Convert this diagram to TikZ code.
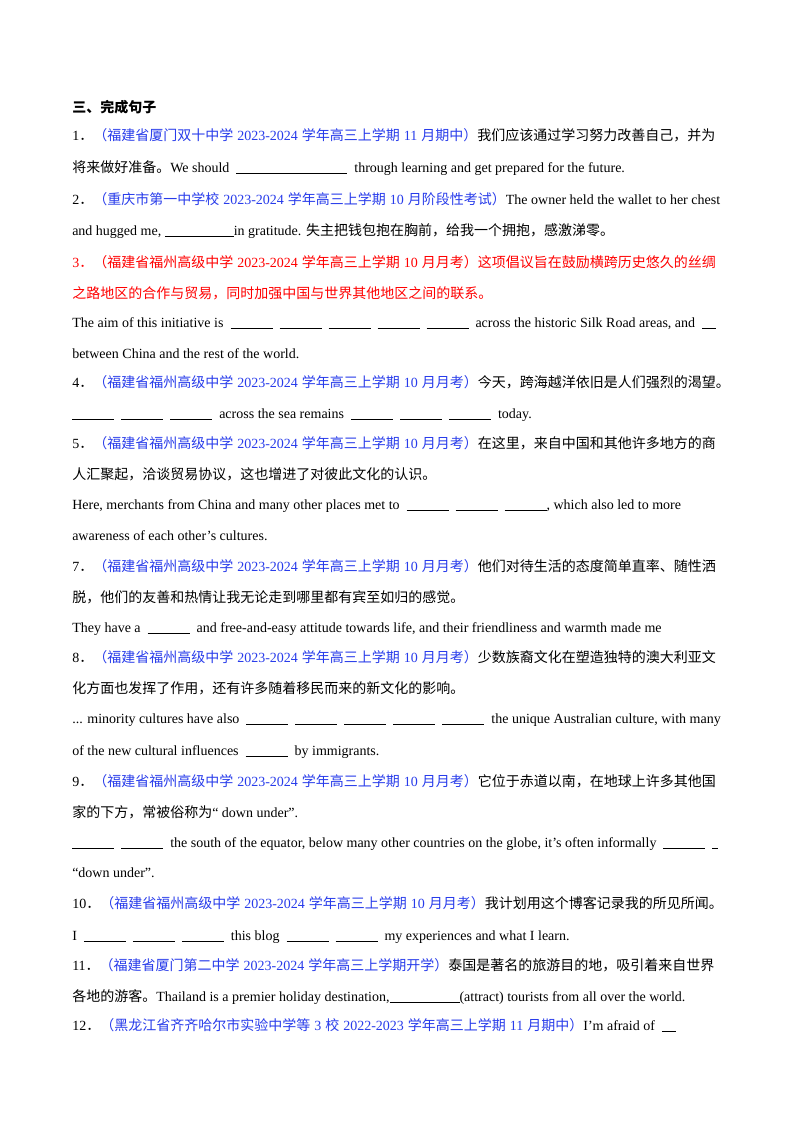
\documentclass[tikz,border=0pt]{standalone}
\usepackage{fontspec}
\setmainfont{Liberation Serif}
\newfontfamily\cjkf{Noto Sans CJK SC}
\newcommand{\C}[1]{{\cjkf #1}}
\newcommand{\N}[1]{\hspace{3pt}#1\hspace{3pt}}
\newcommand{\bl}[1][42]{\rule[-1.5pt]{#1\dimexpr0.75pt\relax}{0.5pt}}
\definecolor{src}{RGB}{40,60,235}
\definecolor{hl}{RGB}{255,0,0}
\newcommand{\Src}[1]{\textcolor{src}{#1}}
\begin{document}
\begin{tikzpicture}[x=0.75pt,y=-0.75pt,
  ln/.style={anchor=base west,inner sep=0pt,font=\fontsize{10.5}{13}\selectfont}]
\useasboundingbox[fill=white] (0,0) rectangle (800,1132);
\node[ln] (t) at (72,112) {\C{\bfseries 三、完成句子}};
\node[ln] (a1) at (72,140) {1\C{．}\Src{\C{（福建省厦门双十中学}\N{2023-2024}\C{学年高三上学期}\N{11}\C{月期中）}}\C{我们应该通过学习努力改善自己，并为}};
\node[ln] (a2) at (72,172) {\C{将来做好准备。}We should \ \bl[111] \ through learning and get prepared for the future.};
\node[ln] (b1) at (72,204) {2\C{．}\Src{\C{（重庆市第一中学校}\N{2023-2024}\C{学年高三上学期}\N{10}\C{月阶段性考试）}}The owner held the wallet to her chest};
\node[ln] (b2) at (72,235) {and hugged me, \bl[69]in gratitude. \C{失主把钱包抱在胸前，给我一个拥抱，感激涕零。}};
\node[ln] (c1) at (72,267) {\color{hl}3\C{．（福建省福州高级中学}\N{2023-2024}\C{学年高三上学期}\N{10}\C{月月考）这项倡议旨在鼓励横跨历史悠久的丝绸}};
\node[ln] (c2) at (72,298) {\color{hl}\C{之路地区的合作与贸易，同时加强中国与世界其他地区之间的联系。}};
\node[ln] (c3) at (72,327) {The aim of this initiative is \ \bl\ \ \bl\ \ \bl\ \ \bl\ \ \bl\ \ across the historic Silk Road areas, and \ \bl[14]};
\node[ln] (c4) at (72,358) {between China and the rest of the world.};
\node[ln] (d1) at (72,387) {4\C{．}\Src{\C{（福建省福州高级中学}\N{2023-2024}\C{学年高三上学期}\N{10}\C{月月考）}}\C{今天，跨海越洋依旧是人们强烈的渴望。}};
\node[ln] (d2) at (72,418) {\bl\ \ \bl\ \ \bl\ \ across the sea remains \ \bl\ \ \bl\ \ \bl\ \ today.};
\node[ln] (e1) at (72,448) {5\C{．}\Src{\C{（福建省福州高级中学}\N{2023-2024}\C{学年高三上学期}\N{10}\C{月月考）}}\C{在这里，来自中国和其他许多地方的商}};
\node[ln] (e2) at (72,479) {\C{人汇聚起，洽谈贸易协议，这也增进了对彼此文化的认识。}};
\node[ln] (e3) at (72,509) {Here, merchants from China and many other places met to \ \bl\ \ \bl\ \ \bl, which also led to more};
\node[ln] (e4) at (72,540) {awareness of each other’s cultures.};
\node[ln] (f1) at (72,571) {7\C{．}\Src{\C{（福建省福州高级中学}\N{2023-2024}\C{学年高三上学期}\N{10}\C{月月考）}}\C{他们对待生活的态度简单直率、随性洒}};
\node[ln] (f2) at (72,602) {\C{脱，他们的友善和热情让我无论走到哪里都有宾至如归的感觉。}};
\node[ln] (f3) at (72,632) {They have a \ \bl\ \ and free-and-easy attitude towards life, and their friendliness and warmth made me};
\node[ln] (g1) at (72,662) {8\C{．}\Src{\C{（福建省福州高级中学}\N{2023-2024}\C{学年高三上学期}\N{10}\C{月月考）}}\C{少数族裔文化在塑造独特的澳大利亚文}};
\node[ln] (g2) at (72,693) {\C{化方面也发挥了作用，还有许多随着移民而来的新文化的影响。}};
\node[ln] (g3) at (72,723) {... minority cultures have also \ \bl\ \ \bl\ \ \bl\ \ \bl\ \ \bl\ \ the unique Australian culture, with many};
\node[ln] (g4) at (72,755) {of the new cultural influences \ \bl\ \ by immigrants.};
\node[ln] (h1) at (72,786) {9\C{．}\Src{\C{（福建省福州高级中学}\N{2023-2024}\C{学年高三上学期}\N{10}\C{月月考）}}\C{它位于赤道以南，在地球上许多其他国}};
\node[ln] (h2) at (72,817) {\C{家的下方，常被俗称为}“ down under”.};
\node[ln] (h3) at (72,847) {\bl\ \ \bl\ \ the south of the equator, below many other countries on the globe, it’s often informally \ \bl\ \ \bl[6]};
\node[ln] (h4) at (72,877) {“down under”.};
\node[ln] (i1) at (72,908) {10\C{．}\Src{\C{（福建省福州高级中学}\N{2023-2024}\C{学年高三上学期}\N{10}\C{月月考）}}\C{我计划用这个博客记录我的所见所闻。}};
\node[ln] (i2) at (72,940) {I \ \bl\ \ \bl\ \ \bl\ \ this blog \ \bl\ \ \bl\ \ my experiences and what I learn.};
\node[ln] (j1) at (72,970) {11\C{．}\Src{\C{（福建省厦门第二中学}\N{2023-2024}\C{学年高三上学期开学）}}\C{泰国是著名的旅游目的地，吸引着来自世界}};
\node[ln] (j2) at (72,1001) {\C{各地的游客。}Thailand is a premier holiday destination,\bl[70](attract) tourists from all over the world.};
\node[ln] (k1) at (72,1030) {12\C{．}\Src{\C{（黑龙江省齐齐哈尔市实验中学等}\N{3}\C{校}\N{2022-2023}\C{学年高三上学期}\N{11}\C{月期中）}}I’m afraid of \ \bl[14]};
\end{tikzpicture}
\end{document}
